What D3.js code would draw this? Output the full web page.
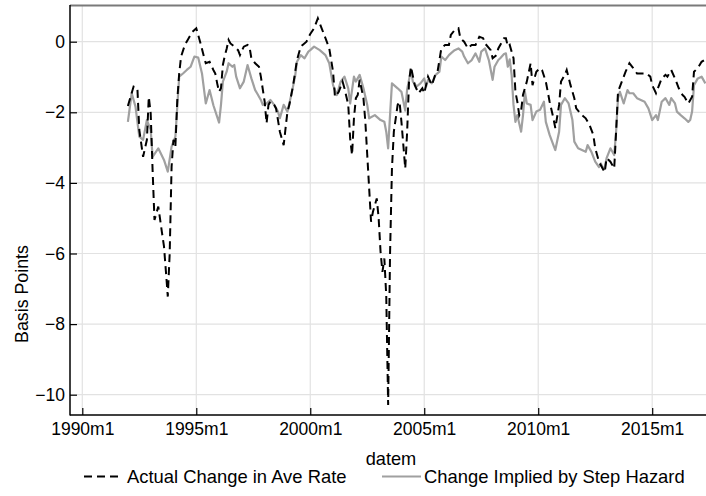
<!DOCTYPE html>
<html><head><meta charset="utf-8">
<script src="https://cdn.jsdelivr.net/npm/d3@7"></script>
<style>
html,body{margin:0;padding:0;background:#fff;}
svg{display:block;font-family:"Liberation Sans",Arial,sans-serif;}
</style></head>
<body><svg id="c" width="706" height="496"></svg>
<script>
// ---- data ----
const xTickLabels = ["1990m1","1995m1","2000m1","2005m1","2010m1","2015m1"];
const yTicks = [0,-2,-4,-6,-8,-10];
const seriesNames = ["Actual Change in Ave Rate","Change Implied by Step Hazard"];

const actualDates = ["1992m1","1992m4","1992m6","1992m7","1992m9","1992m11","1992m12","1993m1","1993m2","1993m3","1993m5","1993m6","1993m7","1993m8","1993m9","1993m10","1993m11","1993m12","1994m1","1994m2","1994m3","1994m4","1994m5","1994m7","1994m9","1994m11","1995m1","1995m3","1995m5","1995m6","1995m8","1995m10","1995m11","1995m12","1996m1","1996m2","1996m3","1996m4","1996m5","1996m6","1996m7","1996m9","1996m11","1996m12","1997m2","1997m4","1997m5","1997m6","1997m8","1997m10","1997m11","1998m1","1998m2","1998m3","1998m4","1998m6","1998m7","1998m9","1998m11","1998m12","1999m1","1999m2","1999m4","1999m6","1999m8","1999m9","1999m11","2000m1","2000m3","2000m5","2000m7","2000m9","2000m11","2001m1","2001m2","2001m4","2001m6","2001m7","2001m9","2001m10","2001m11","2001m12","2002m1","2002m2","2002m3","2002m5","2002m6","2002m7","2002m8","2002m9","2002m10","2002m12","2003m1","2003m2","2003m3","2003m4","2003m5","2003m6","2003m7","2003m8","2003m9","2003m10","2003m11","2003m12","2004m1","2004m2","2004m3","2004m4","2004m5","2004m6","2004m8","2004m10","2004m12","2005m1","2005m3","2005m5","2005m7","2005m8","2005m10","2005m12","2006m2","2006m3","2006m5","2006m7","2006m8","2006m10","2006m12","2007m2","2007m4","2007m6","2007m8","2007m9","2007m12","2008m1","2008m3","2008m4","2008m7","2008m8","2008m9","2008m10","2008m12","2009m1","2009m2","2009m3","2009m4","2009m5","2009m7","2009m9","2009m10","2009m12","2010m2","2010m3","2010m5","2010m7","2010m9","2010m10","2010m12","2011m1","2011m3","2011m4","2011m6","2011m8","2011m9","2011m12","2012m2","2012m4","2012m6","2012m7","2012m9","2012m10","2012m12","2013m1","2013m3","2013m5","2013m6","2013m7","2013m9","2013m11","2014m1","2014m3","2014m5","2014m8","2014m10","2014m12","2015m1","2015m3","2015m4","2015m6","2015m8","2015m9","2015m11","2016m1","2016m3","2016m5","2016m6","2016m8","2016m10","2016m11","2017m1","2017m3","2017m5"];
const actualValues = [-1.82,-1.27,-1.32,-2.5,-3.26,-2.78,-1.56,-2.03,-3.63,-5.05,-4.67,-5.05,-5.43,-5.8,-6.5,-7.22,-6.0,-3.54,-2.78,-2.97,-1.65,-0.9,-0.42,-0.09,0.1,0.28,0.38,0,-0.42,-0.61,-0.57,-0.8,-0.9,-1.18,-1.42,-1.32,-0.66,-0.4,-0.2,0.05,-0.05,-0.14,-0.24,-0.38,-0.14,-0.09,-0.14,-0.47,-0.61,-0.71,-0.99,-1.7,-2.31,-1.79,-1.7,-1.79,-1.89,-2.55,-2.93,-2.45,-1.98,-1.79,-1.23,-0.52,-0.14,-0.09,0,0.22,0.38,0.66,0.38,0.1,-0.19,-0.85,-1.56,-1.42,-1.13,-1.32,-1.79,-2.74,-3.21,-2.17,-1.6,-1.51,-1.08,-1.6,-2.27,-3.21,-4.15,-5.1,-4.82,-4.44,-5.0,-5.95,-6.52,-6.14,-7.2,-10.29,-6.0,-3.6,-2.55,-2.17,-1.79,-1.7,-2.27,-2.93,-3.59,-2.55,-1.13,-0.71,-1.23,-1.46,-1.32,-1.46,-0.99,-1.23,-0.9,-0.85,-0.19,-0.09,-0.09,0.19,0.33,0.38,0.1,0,-0.19,-0.09,-0.09,0.14,0.1,-0.05,-0.24,-0.47,-0.38,-0.19,0.1,0.1,-0.14,-0.09,-0.47,-1.42,-1.7,-2.08,-1.95,-1.5,-1.13,-0.61,-1.23,-0.85,-0.75,-0.8,-1.13,-1.7,-2.17,-2.45,-1.79,-1.13,-0.94,-0.8,-1.23,-1.6,-1.89,-2.08,-2.17,-2.36,-2.64,-3.02,-3.4,-3.5,-3.7,-3.3,-3.4,-3.59,-2.55,-1.42,-1.13,-0.85,-0.61,-0.75,-0.9,-0.9,-0.9,-0.99,-1.23,-1.46,-1.32,-1.04,-0.94,-0.99,-0.8,-1.04,-1.32,-1.51,-1.56,-1.75,-1.56,-0.85,-0.75,-0.57,-0.5];

const hazardDates = ["1992m1","1992m3","1992m5","1992m7","1992m9","1992m11","1993m1","1993m2","1993m5","1993m8","1993m10","1993m12","1994m2","1994m4","1994m6","1994m8","1994m10","1994m12","1995m2","1995m4","1995m6","1995m8","1995m10","1996m1","1996m2","1996m3","1996m5","1996m6","1996m8","1996m9","1996m10","1996m12","1997m2","1997m4","1997m6","1997m8","1997m9","1997m11","1997m12","1998m2","1998m4","1998m6","1998m8","1998m9","1998m11","1999m1","1999m3","1999m5","1999m6","1999m8","1999m10","1999m12","2000m1","2000m3","2000m6","2000m9","2000m11","2001m1","2001m3","2001m5","2001m7","2001m9","2001m10","2001m12","2002m1","2002m3","2002m5","2002m7","2002m8","2002m11","2003m2","2003m4","2003m5","2003m6","2003m7","2003m8","2003m11","2004m1","2004m3","2004m4","2004m6","2004m7","2004m9","2004m11","2005m1","2005m2","2005m3","2005m5","2005m7","2005m9","2005m10","2005m12","2006m2","2006m3","2006m5","2006m7","2006m9","2006m10","2006m12","2007m2","2007m4","2007m6","2007m7","2007m9","2007m11","2008m1","2008m2","2008m4","2008m5","2008m7","2008m8","2008m9","2008m10","2008m11","2008m12","2009m1","2009m2","2009m4","2009m5","2009m6","2009m7","2009m9","2009m10","2009m12","2010m2","2010m4","2010m5","2010m7","2010m9","2010m10","2010m12","2011m1","2011m3","2011m5","2011m7","2011m8","2011m10","2011m12","2012m2","2012m3","2012m5","2012m7","2012m9","2012m10","2012m11","2012m12","2013m1","2013m3","2013m5","2013m6","2013m7","2013m8","2013m10","2013m12","2014m1","2014m3","2014m5","2014m7","2014m9","2014m11","2015m1","2015m3","2015m4","2015m6","2015m8","2015m10","2015m11","2016m1","2016m2","2016m4","2016m6","2016m8","2016m9","2016m10","2016m11","2017m1","2017m3","2017m5"];
const hazardValues = [-2.27,-1.46,-1.84,-2.69,-2.78,-2.22,-2.5,-3.26,-3.02,-3.35,-3.68,-2.97,-2.69,-0.99,-0.9,-0.8,-0.71,-0.42,-0.45,-0.9,-1.75,-1.37,-1.8,-2.29,-1.79,-1.13,-0.85,-0.61,-0.71,-0.66,-0.99,-1.32,-1.13,-0.66,-1.04,-1.37,-1.46,-1.65,-1.79,-1.75,-1.65,-1.79,-1.98,-2.17,-1.79,-1.98,-1.51,-0.99,-0.57,-0.38,-0.47,-0.28,-0.24,-0.14,-0.24,-0.38,-0.61,-1.23,-1.51,-1.13,-0.99,-1.32,-1.75,-0.99,-1.13,-0.94,-1.32,-1.79,-2.17,-2.08,-2.22,-2.27,-2.55,-3.02,-2.08,-1.18,-1.32,-1.42,-1.95,-1.35,-0.8,-1.13,-1.27,-1.18,-1.04,-1.27,-1.08,-1.18,-0.94,-0.85,-0.42,-0.52,-0.38,-0.33,-0.24,-0.19,-0.28,-0.42,-0.61,-0.52,-0.33,-0.57,-0.28,-0.19,-0.52,-1.08,-0.71,-0.52,-0.47,-0.35,-0.33,-0.71,-0.5,-0.94,-1.79,-2.27,-2.08,-2.55,-2.08,-1.42,-1.75,-1.79,-2.22,-1.98,-1.93,-1.7,-2.27,-2.64,-2.93,-3.07,-2.55,-1.79,-1.6,-1.75,-2.22,-2.83,-3.02,-3.07,-3.12,-2.93,-3.12,-3.4,-3.55,-3.45,-3.59,-3.55,-3.3,-3.02,-3.21,-2.55,-1.6,-1.42,-1.75,-1.37,-1.46,-1.46,-1.6,-1.65,-1.7,-1.89,-2.22,-2.08,-2.22,-1.7,-1.6,-1.79,-1.6,-1.75,-1.98,-2.08,-2.17,-2.27,-2.22,-1.98,-1.23,-1.04,-0.99,-1.18];

// ---- helpers ----
function monthIndex(s){ const p = s.split("m"); return (+p[0]-1990)*12 + (+p[1]-1); }
const actual = actualDates.map((d,i)=>({m:monthIndex(d), v:actualValues[i]}));
const hazard = hazardDates.map((d,i)=>({m:monthIndex(d), v:hazardValues[i]}));

const svg = d3.select("#c");
const L = 70, T = 5, R = 706, B = 415;
const FONT = "Liberation Sans, Arial, sans-serif";

const x = d3.scaleLinear().domain([0,300]).range([82.3,652.2]);
const y = d3.scaleLinear().domain([0,-10]).range([41.7,394.7]);

// grid
const g = svg.append("g");
g.selectAll("line.hg").data(yTicks).join("line")
  .attr("x1",L).attr("x2",R).attr("y1",d=>y(d)).attr("y2",d=>y(d))
  .attr("stroke","#e2e2e2").attr("stroke-width",1.2);
g.selectAll("line.vg").data(xTickLabels).join("line")
  .attr("x1",d=>x(monthIndex(d))).attr("x2",d=>x(monthIndex(d)))
  .attr("y1",T).attr("y2",B)
  .attr("stroke","#e2e2e2").attr("stroke-width",1.2);

// top border
svg.append("line").attr("x1",L).attr("x2",R).attr("y1",T+0.5).attr("y2",T+0.5)
  .attr("stroke","#7a7a7a").attr("stroke-width",2);

// lines
const line = d3.line().x(d=>x(d.m)).y(d=>y(d.v));
svg.append("path").datum(hazard).attr("d",line)
  .attr("fill","none").attr("stroke","#a0a0a0").attr("stroke-width",2.2).attr("stroke-linejoin","round");
svg.append("path").datum(actual).attr("d",line)
  .attr("fill","none").attr("stroke","#000").attr("stroke-width",2).attr("stroke-dasharray","8,5");

// axes (ticks drawn inward)
const yAxis = d3.axisLeft(y).tickValues(yTicks).tickSizeInner(-7).tickSizeOuter(0).tickPadding(5)
  .tickFormat(d=> d<0 ? "\u2212"+Math.abs(d) : d);
const ya = svg.append("g").attr("transform",`translate(${L},0)`).call(yAxis);
ya.select(".domain").remove();
ya.selectAll(".tick text").attr("x",-5);
ya.append("line").attr("x1",0).attr("x2",0).attr("y1",T).attr("y2",B+0.5).attr("stroke","#000").attr("stroke-width",1.5);

const xAxis = d3.axisBottom(x).tickValues(xTickLabels.map(monthIndex)).tickSizeInner(-7).tickSizeOuter(0).tickPadding(8)
  .tickFormat((d,i)=>xTickLabels[i]);
const xa = svg.append("g").attr("transform",`translate(0,${B})`).call(xAxis);
xa.select(".domain").remove();
xa.selectAll(".tick text").attr("y",8);
xa.append("line").attr("x1",L).attr("x2",R).attr("y1",0).attr("y2",0).attr("stroke","#000").attr("stroke-width",1.5);

svg.selectAll(".tick text").attr("font-size",17.5).attr("fill","#000").attr("font-family",FONT);
svg.selectAll(".tick line").attr("stroke","#000").attr("stroke-width",1.2);

// axis titles
svg.append("text").attr("x",391).attr("y",465).attr("text-anchor","middle").attr("font-size",18.2).attr("font-family",FONT).text("datem");
svg.append("text").attr("transform","translate(27.5,294) rotate(-90)").attr("text-anchor","middle").attr("font-size",17.8).attr("font-family",FONT).text("Basis Points");

// legend
const ly = 483;
svg.append("line").attr("x1",84).attr("x2",123).attr("y1",ly-6.5).attr("y2",ly-6.5).attr("stroke","#000").attr("stroke-width",2).attr("stroke-dasharray","8,5");
svg.append("text").attr("x",127).attr("y",ly).attr("font-size",18.4).attr("font-family",FONT).text(seriesNames[0]);
svg.append("line").attr("x1",382).attr("x2",421).attr("y1",ly-6.5).attr("y2",ly-6.5).attr("stroke","#a0a0a0").attr("stroke-width",2.2);
svg.append("text").attr("x",424).attr("y",ly).attr("font-size",18.4).attr("font-family",FONT).text(seriesNames[1]);
</script></body></html>
